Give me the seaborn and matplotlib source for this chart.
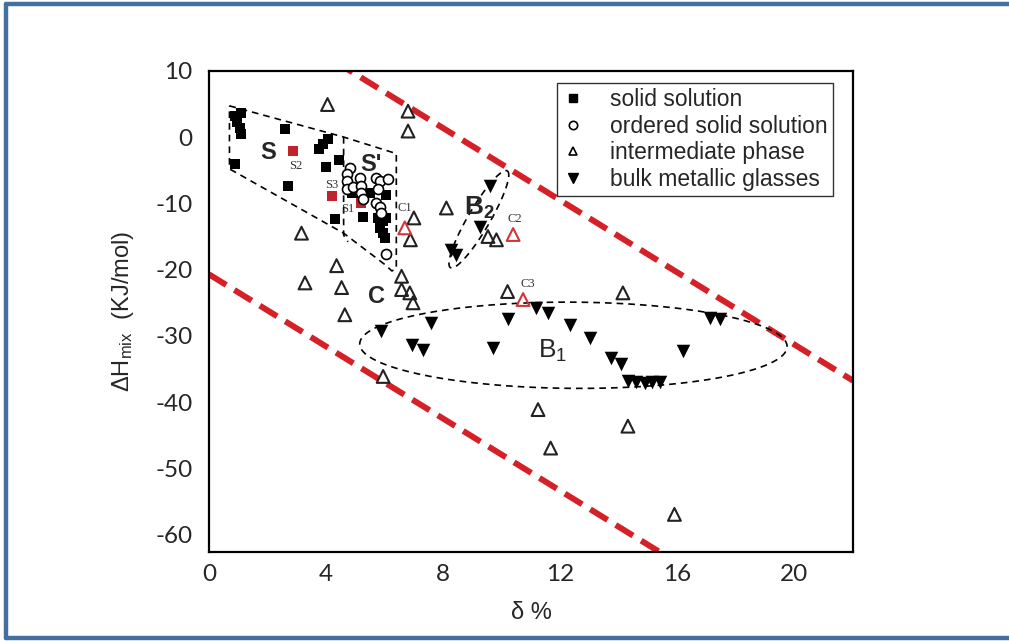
import numpy as np
import matplotlib
matplotlib.use("Agg")
import matplotlib.pyplot as plt
from matplotlib.lines import Line2D
from matplotlib.ticker import MultipleLocator, FuncFormatter
import seaborn as sns

# ---- data: (delta %, dHmix kJ/mol) ----
ss_x = [0.9, 1.1, 0.95, 1.05, 1.1, 0.9, 2.59, 2.71, 3.75, 3.9, 4.05, 3.99, 4.45,
        4.3, 5.27, 4.87, 5.15, 5.49, 6.06, 5.78, 5.95, 5.84, 6.06, 5.95, 6.0]
ss_y = [3.2, 3.6, 2.3, 1.3, 0.5, -4.1, 1.2, -7.4, -1.8, -1.0, -0.3, -4.5, -3.5,
        -12.3, -12.1, -8.4, -8.4, -8.5, -8.7, -12.2, -12.7, -13.7, -12.2, -14.5, -15.2]

ss_red_x = [5.19, 2.88, 4.21]
ss_red_y = [-10.0, -2.1, -8.9]
ss_red_names = ["S1", "S2", "S3"]

oss_x = [4.81, 4.72, 4.7, 5.15, 4.7, 4.93, 5.21, 5.21, 5.72, 5.84, 6.12, 5.78,
         5.27, 5.72, 5.84, 5.89, 6.06]
oss_y = [-4.6, -5.6, -6.7, -6.2, -7.9, -7.6, -7.4, -8.4, -6.2, -6.7, -6.3, -7.8,
         -9.4, -9.9, -10.6, -11.4, -17.7]

im_x = [4.05, 6.8, 6.8, 3.16, 7.0, 6.88, 4.36, 8.11, 9.53, 9.82, 3.28, 4.53,
        4.64, 5.95, 6.58, 6.58, 6.86, 6.97, 10.2, 14.14, 11.24, 14.31, 11.67, 15.9]
im_y = [4.9, 3.9, 0.9, -14.5, -12.2, -15.5, -19.4, -10.7, -15.0, -15.5, -22.0, -22.7,
        -26.8, -36.1, -21.0, -23.0, -23.5, -25.0, -23.3, -23.5, -41.1, -43.6, -46.9, -56.9]

im_red_x = [6.69, 10.39, 10.73]
im_red_y = [-13.7, -14.7, -24.5]
im_red_names = ["C1", "C2", "C3"]

bmg_x = [9.59, 9.25, 8.28, 8.45, 5.89, 7.6, 6.92, 7.31, 10.21, 9.7, 11.18, 11.58,
         12.32, 13.0, 13.74, 14.08, 14.3, 14.6, 14.9, 15.15, 15.4, 16.19, 17.1, 17.44]
bmg_y = [-7.4, -13.5, -17.0, -17.8, -29.3, -28.0, -31.3, -32.1, -27.5, -31.8, -25.8, -26.5,
         -28.3, -30.3, -33.3, -34.3, -36.8, -37.0, -37.1, -37.0, -36.9, -32.3, -27.3, -27.5]

legend_labels = ["solid solution", "ordered solid solution",
                 "intermediate phase", "bulk metallic glasses"]

# boundary lines y = intercept + slope * x
bound_slope = -2.72
bound_intercepts = [23.1, -20.7]

# ---- style ----
sns.set_style("white")
plt.rcParams["font.family"] = ["Liberation Sans", "DejaVu Sans"]
plt.rcParams["mathtext.default"] = "regular"

fig = plt.figure(figsize=(10.09, 6.41), dpi=100)
ax = fig.add_axes([0.2071, 0.1396, 0.6383, 0.7501])

# boundary lines
xl = np.linspace(0, 22, 200)
for b in bound_intercepts:
    ax.plot(xl, b + bound_slope * xl, color="#D62027", lw=4.3,
            dashes=(3.4, 1.6), solid_capstyle="butt", zorder=1)

# region outlines
dash = (0, (4, 3))
reg_x = [0.7, 4.6, 6.4, 6.4, 6.25, 6.0, 4.6, 0.7, 0.7]
reg_y = [4.7, 0.0, -2.5, -19.8, -20.2, -19.2, -14.5, -4.8, 4.7]
ax.plot(reg_x, reg_y, color="black", lw=1.2, linestyle=dash, zorder=2)
ax.plot([4.6, 4.6, 4.75], [0.0, -14.8, -15.8], color="black", lw=1.2, linestyle=dash, zorder=2)

t = np.linspace(0, 2 * np.pi, 300)
# B2 ellipse (tilted)
cx, cy = 9.22, -12.4
ax.plot(cx + 0.97 * np.cos(t) + 0.32 * np.sin(t),
        cy + 7.3 * np.cos(t) - 0.85 * np.sin(t),
        color="black", lw=1.2, linestyle=dash, zorder=2)
# B1 ellipse
ax.plot(12.45 + 7.3 * np.cos(t), -31.4 + 6.5 * np.sin(t) - 0.2 * np.cos(t),
        color="black", lw=1.2, linestyle=dash, zorder=2)

# points
sns.scatterplot(x=ss_x, y=ss_y, marker="s", s=60, color="black",
                edgecolor="black", linewidth=0, ax=ax, zorder=4)
sns.scatterplot(x=ss_red_x, y=ss_red_y, marker="s", s=60, color="#C0232B",
                edgecolor="#C0232B", linewidth=0, ax=ax, zorder=4)
sns.scatterplot(x=oss_x, y=oss_y, marker="o", s=52, facecolor="white",
                edgecolor="black", linewidth=1.2, ax=ax, zorder=5)
sns.scatterplot(x=im_x, y=im_y, marker="^", s=85, facecolor="none",
                edgecolor="#222222", linewidth=1.5, ax=ax, zorder=4)
sns.scatterplot(x=im_red_x, y=im_red_y, marker="^", s=85, facecolor="none",
                edgecolor="#D0353A", linewidth=1.5, ax=ax, zorder=4)
sns.scatterplot(x=bmg_x, y=bmg_y, marker="v", s=95, color="black",
                edgecolor="black", linewidth=0, ax=ax, zorder=4)

# region letters
ax.text(2.03, -2.4, "S", fontsize=17, fontweight="bold", ha="center", va="center")
ax.text(5.55, -4.1, "S'", fontsize=17, fontweight="bold", ha="center", va="center")
ax.text(5.72, -24.0, "C", fontsize=17, fontweight="bold", ha="center", va="center")
ax.text(9.25, -10.7, "B$_{2}$", fontsize=19, fontweight="bold", ha="center", va="center")
ax.text(11.75, -32.3, "B$_{1}$", fontsize=19, ha="center", va="center")

# point names
for nx, ny, nm, dx, dy in zip(ss_red_x, ss_red_y, ss_red_names,
                              [-0.45, 0.1, 0.0], [-0.9, -2.3, 1.7]):
    ax.text(nx + dx, ny + dy, nm, fontsize=9, family="Liberation Serif",
            ha="center", va="center", color="#333333")
for nx, ny, nm, dx, dy in zip(im_red_x, im_red_y, im_red_names,
                              [0.0, 0.05, 0.17], [3.0, 2.3, 2.3]):
    ax.text(nx + dx, ny + dy, nm, fontsize=9, family="Liberation Serif",
            ha="center", va="center", color="#333333")

# axes
ax.set_xlim(0, 22)
ax.set_ylim(-62.5, 10)
ax.xaxis.set_major_locator(MultipleLocator(2))
ax.xaxis.set_minor_locator(MultipleLocator(1))
ax.yaxis.set_major_locator(MultipleLocator(5))
ax.yaxis.set_minor_locator(MultipleLocator(2.5))
ax.xaxis.set_major_formatter(FuncFormatter(lambda v, p: f"{v:.0f}" if round(v) % 4 == 0 else ""))
ax.yaxis.set_major_formatter(FuncFormatter(lambda v, p: f"{v:.0f}" if round(v) % 10 == 0 else ""))
ax.tick_params(which="both", direction="in", width=1.4, top=False, right=False)
ax.tick_params(which="major", length=8)
ax.tick_params(which="minor", length=5)
ax.tick_params(axis="y", which="major", pad=12)
ax.tick_params(axis="x", which="major", pad=9)
for lab in ax.get_xticklabels() + ax.get_yticklabels():
    lab.set_family("Lato")
    lab.set_fontsize(17.5)
for sp in ax.spines.values():
    sp.set_visible(True)
    sp.set_color("black")
    sp.set_linewidth(1.6)

ax.set_xlabel("δ %", fontsize=17, labelpad=12)
ax.set_ylabel("ΔH$_{mix}$  (KJ/mol)", fontsize=17, labelpad=14)

handles = [
    Line2D([], [], ls="none", marker="s", ms=6, mfc="black", mec="black"),
    Line2D([], [], ls="none", marker="o", ms=6, mfc="none", mec="black", mew=1.2),
    Line2D([], [], ls="none", marker="^", ms=6, mfc="none", mec="black", mew=1.2),
    Line2D([], [], ls="none", marker="v", ms=7, mfc="black", mec="black"),
]
leg = ax.legend(handles, legend_labels, loc="upper left", bbox_to_anchor=(0.540, 0.974),
                borderaxespad=0, fontsize=16.5, frameon=True, fancybox=False,
                handlelength=1.0, handletextpad=1.1, labelspacing=0.15,
                borderpad=0.22, edgecolor="black")
leg.get_frame().set_linewidth(1.0)

# outer frame
for xs, ys in [([0.006, 1.0], [0.9945, 0.9945]),
               ([0.006, 1.0], [0.0045, 0.0045]),
               ([0.006, 0.006], [0.0045, 0.9945])]:
    fig.add_artist(Line2D(xs, ys, transform=fig.transFigure, color="#44709D", lw=3.2))

fig.savefig("out.png", dpi=100, facecolor="white")
